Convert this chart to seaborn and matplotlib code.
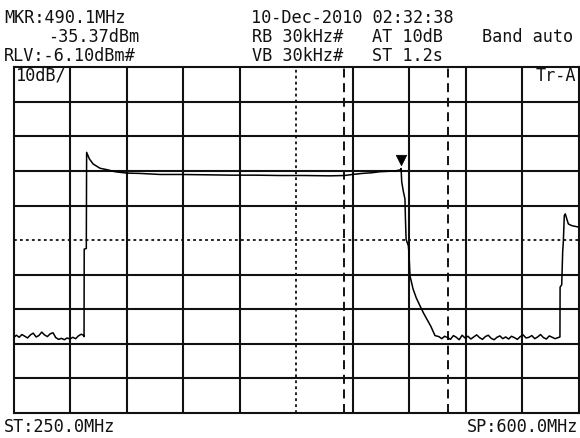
import numpy as np
import pandas as pd
import matplotlib
matplotlib.use("Agg")
import matplotlib.pyplot as plt
import seaborn as sns

# ---- data ----
start_mhz = 250.0
stop_mhz = 600.0
ref_level = -6.10
db_per_div = 10.0
marker_freq = 490.1
marker_level = -35.37
cursor_freqs = [455.0, 519.3]

left_noise_f = [250.0, 251.8, 253.5, 255.2, 257.0, 258.7, 260.5, 262.2, 264.0, 265.7,
                267.5, 269.2, 271.0, 272.7, 274.5, 276.2, 278.0, 279.7, 281.5, 283.2,
                285.0, 286.7, 288.5, 290.2, 292.0, 293.2]
left_noise_db = [-84.3, -83.6, -84.2, -83.4, -83.9, -84.4, -83.5, -83.0, -84.1, -83.7,
                 -82.7, -83.5, -84.0, -83.2, -82.9, -84.3, -84.8, -84.5, -84.9, -84.4,
                 -84.7, -84.2, -84.6, -83.8, -83.3, -83.6]

band_f = [293.7, 293.8, 295.1, 295.3, 297.0, 299.4, 303.6, 307.7, 312.9, 320.1,
          328.4, 340.8, 353.1, 370.0, 385.0, 400.0, 415.0, 430.0, 446.0, 455.0,
          460.0, 466.0, 472.0, 477.0, 486.0, 489.5, 490.1]
band_db = [-84.0, -58.7, -58.5, -30.7, -32.6, -34.1, -35.3, -35.7, -36.3, -36.7,
           -36.8, -37.1, -37.1, -37.2, -37.3, -37.3, -37.4, -37.4, -37.5, -37.4,
           -37.1, -36.8, -36.6, -36.3, -36.1, -35.8, -35.37]

fall_f = [490.5, 491.5, 492.5, 492.8, 493.2, 494.6, 495.0, 495.6, 497.5, 499.5,
          501.8, 504.0, 506.0, 508.5, 511.1, 513.5]
fall_db = [-39.3, -42.0, -44.2, -50.0, -55.9, -57.7, -60.0, -66.4, -70.2, -72.8,
           -75.1, -77.2, -78.9, -81.0, -83.7, -84.0]

right_noise_f = [515.3, 517.1, 518.9, 520.7, 522.5, 524.3, 526.1, 527.9, 529.7, 531.5,
                 533.3, 535.1, 536.9, 538.7, 540.5, 542.3, 544.1, 545.9, 547.7, 549.5,
                 551.3, 553.1, 554.9, 556.7, 558.5, 560.3, 562.1, 563.9, 565.7, 567.5,
                 569.3, 571.1, 572.9, 574.7, 576.5, 578.3, 580.1, 581.9, 583.7, 585.5,
                 587.3, 588.5]
right_noise_db = [-84.6, -83.9, -84.3, -84.8, -83.7, -84.2, -84.9, -83.6, -84.4, -83.9,
                  -84.7, -84.1, -83.5, -84.3, -84.8, -84.0, -83.6, -84.5, -84.9, -84.2,
                  -83.8, -84.6, -84.1, -84.7, -83.9, -84.3, -84.8, -84.0, -83.5, -84.4,
                  -84.2, -83.7, -84.6, -84.1, -83.4, -84.3, -84.7, -83.8, -84.2, -84.6,
                  -84.3, -84.1]

rise_f = [588.6, 589.6, 590.2, 590.6, 591.2, 591.8, 593.7, 595.8, 599.9]
rise_db = [-69.7, -69.0, -59.5, -56.6, -49.0, -48.5, -51.4, -51.9, -52.3]

# ---- figure ----
W, H = 580, 439
fig = plt.figure(figsize=(W / 100, H / 100), dpi=100)
fig.patch.set_facecolor("white")
plt.rcParams["lines.scale_dashes"] = False

left_px, right_px, top_px, bot_px = 13.5, 578.5, 68.3, 414.0
ax = fig.add_axes([left_px / W, 1 - bot_px / H, (right_px - left_px) / W, (bot_px - top_px) / H])
ax.set_facecolor("white")

bottom_level = ref_level - 10 * db_per_div
ax.set_xlim(start_mhz, stop_mhz)
ax.set_ylim(bottom_level, ref_level)
ax.set_xticks([])
ax.set_yticks([])
for s in ax.spines.values():
    s.set_color("#111111")
    s.set_linewidth(1.5)

xdiv = (stop_mhz - start_mhz) / 10
for i in range(1, 10):
    xv = start_mhz + i * xdiv
    yv = bottom_level + i * db_per_div
    if i == 5:
        ax.axvline(xv, color="#111111", lw=1.3, ls=(0, (2.0, 2.3)), zorder=1)
        ax.axhline(yv, color="#111111", lw=1.3, ls=(0, (2.0, 2.3)), zorder=1)
    else:
        ax.axvline(xv, color="#111111", lw=1.5, zorder=1)
        ax.axhline(yv, color="#111111", lw=1.5, zorder=1)

for cf in cursor_freqs:
    ax.axvline(cf, color="#111111", lw=1.4, ls=(0, (6.5, 4.0)), zorder=1)

freq = left_noise_f + band_f + fall_f + right_noise_f + rise_f
level = left_noise_db + band_db + fall_db + right_noise_db + rise_db
df = pd.DataFrame({"freq": freq, "level": level, "order": np.arange(len(freq))})
sns.lineplot(data=df, x="freq", y="level", ax=ax, color="black", lw=1.1,
             estimator=None, sort=False, zorder=3)

mk = pd.DataFrame({"freq": [marker_freq], "level": [marker_level + 2.4]})
sns.scatterplot(data=mk, x="freq", y="level", ax=ax, marker="v", s=55,
                color="black", edgecolor="black", zorder=4)
ax.set_xlabel("")
ax.set_ylabel("")

# ---- text ----
font = dict(family="DejaVu Sans Mono", fontsize=12.2, color="#111111")

def put(x, y, s, ha="left"):
    fig.text(x / W, 1 - y / H, s, ha=ha, va="center", **font)

put(4, 18, "MKR:490.1MHz")
put(251, 18, "10-Dec-2010 02:32:38")
put(48, 37, "-35.37dBm")
put(252, 37, "RB 30kHz#")
put(372, 37, "AT 10dB")
put(482, 37, "Band auto")
put(4, 56, "RLV:-6.10dBm#")
put(252, 56, "VB 30kHz#")
put(372, 56, "ST 1.2s")
put(4, 427, "ST:250.0MHz")
put(578, 427, "SP:600.0MHz", ha="right")
put(16, 76, "10dB/")
put(576, 76, "Tr-A", ha="right")

fig.savefig("out.png", dpi=100, facecolor="white")
